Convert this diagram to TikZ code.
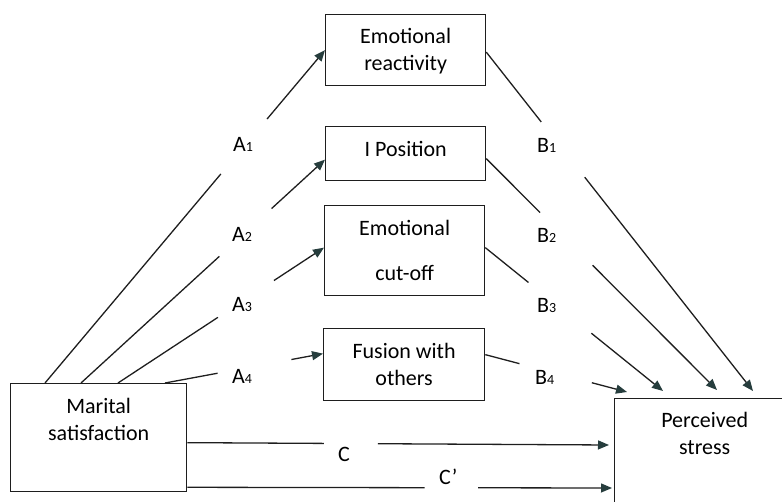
\documentclass[tikz,border=0pt]{standalone}
\usepackage{fontspec}
\setmainfont{Carlito}
\usepackage{xcolor}
\usepackage{tikz}
\usetikzlibrary{arrows.meta,calc}

\definecolor{inkgray}{HTML}{1E1E1E}
\definecolor{tipgray}{HTML}{263D3D}
\newcommand{\sub}[1]{{\fontsize{14}{14}\selectfont #1}}

\tikzset{
    var/.style={draw=inkgray, line width=1.3pt, inner xsep=0pt, inner ysep=0pt,
        align=center, anchor=north west, font=\fontsize{22}{27}\selectfont},
    coef/.style={anchor=base west, inner sep=0pt, font=\fontsize{22}{27}\selectfont},
    link/.style={draw=inkgray, line width=1.3pt},
    pointer/.style={link, -{Triangle[length=11pt,width=9pt,color=tipgray]}}
}

\begin{document}
\begin{tikzpicture}[x=1pt, y=-1pt]
                \useasboundingbox (0,0) rectangle (782,502);
                \clip (0,0) rectangle (782,502);
                % variables
                \node[var, minimum width=176pt, text height=57pt, text depth=51pt] (ms) at (10,383) {Marital\\satisfaction};
                \node[var, minimum width=160pt, text height=56pt, text depth=15pt] (er) at (325,14) {Emotional\\reactivity};
                \node[var, minimum width=160pt, text height=30pt, text depth=24pt] (ip) at (325,126) {I Position};
                \node[var, minimum width=160pt, text height=75pt, text depth=15pt] (co) at (324,205) {Emotional\\[18pt]cut-off};
                \node[var, minimum width=161pt, text height=57pt, text depth=15pt] (fo) at (323,328) {Fusion with\\others};
                \node[var, minimum width=180pt, text height=56pt, text depth=76pt, xshift=-10pt] (ps) at (624,398) {Perceived\\stress};
                % path labels
                \node[coef] (a1) at (233,152) {A\sub{1}};
                \node[coef] (a2) at (232,242) {A\sub{2}};
                \node[coef] (a3) at (232,312) {A\sub{3}};
                \node[coef] (a4) at (232,384) {A\sub{4}};
                \node[coef] (b1) at (537,153) {B\sub{1}};
                \node[coef] (b2) at (537,243) {B\sub{2}};
                \node[coef] (b3) at (537,313) {B\sub{3}};
                \node[coef] (b4) at (535,385) {B\sub{4}};
                \node[coef] (c) at (338,461) {C};
                \node[coef] (cp) at (439,484) {C’};
                % end points of the paths
                \coordinate (m1) at ($(ms.north west)+(35,0)$);
                \coordinate (m2) at ($(ms.north west)+(71,0)$);
                \coordinate (m3) at ($(ms.north west)+(108,0)$);
                \coordinate (m4) at ($(ms.north west)+(155,0)$);
                \coordinate (m5) at ($(ms.east)+(0,5)$);
                \coordinate (m6) at ($(ms.south east)+(0,-5)$);
                \coordinate (er-in) at (er.west);
                \coordinate (ip-in) at ($(ip.west)+(0,6)$);
                \coordinate (co-in) at ($(co.west)+(0,-3)$);
                \coordinate (fo-in) at ($(fo.west)+(0,-11)$);
                \coordinate (er-out) at ($(er.east)+(0,2)$);
                \coordinate (ip-out) at ($(ip.east)+(0,5)$);
                \coordinate (co-out) at ($(co.east)+(0,-3)$);
                \coordinate (fo-out) at ($(fo.east)+(0,-10)$);
                \coordinate (p1) at ($(ps.north west)+(139,-7)$);
                \coordinate (p2) at ($(ps.north west)+(103,-8)$);
                \coordinate (p3) at ($(ps.north west)+(49,-7)$);
                \coordinate (p4) at ($(ps.north west)+(13,-6)$);
                \coordinate (p5) at ($(ps.north west)+(-5,47)$);
                \coordinate (p6) at ($(ps.north west)+(-2,90)$);
                % a paths
                \draw[link] (m1) -- ($(m1)!.628!(er-in)$);
                \draw[pointer] ($(m1)!.793!(er-in)$) -- (er-in);
                \draw[link] (m2) -- ($(m2)!.567!(ip-in)$);
                \draw[pointer] ($(m2)!.781!(ip-in)$) -- (ip-in);
                \draw[link] (m3) -- ($(m3)!.485!(co-in)$);
                \draw[pointer] ($(m3)!.757!(co-in)$) -- (co-in);
                \draw[link] (m4) -- ($(m4)!.333!(fo-in)$);
                \draw[pointer] ($(m4)!.8!(fo-in)$) -- (fo-in);
                % b paths
                \draw[link] (er-out) -- ($(er-out)!.206!(p1)$);
                \draw[pointer] ($(er-out)!.369!(p1)$) -- (p1);
                \draw[link] (ip-out) -- ($(ip-out)!.233!(p2)$);
                \draw[pointer] ($(ip-out)!.461!(p2)$) -- (p2);
                \draw[link] (co-out) -- ($(co-out)!.243!(p3)$);
                \draw[pointer] ($(co-out)!.597!(p3)$) -- (p3);
                \draw[link] (fo-out) -- ($(fo-out)!.241!(p4)$);
                \draw[pointer] ($(fo-out)!.752!(p4)$) -- (p4);
                % c paths
                \draw[link] (m5) -- ($(m5)!.324!(p5)$);
                \draw[pointer] ($(m5)!.452!(p5)$) -- (p5);
                \draw[link] (m6) -- ($(m6)!.559!(p6)$);
                \draw[pointer] ($(m6)!.685!(p6)$) -- (p6);
            \end{tikzpicture}
\end{document}
